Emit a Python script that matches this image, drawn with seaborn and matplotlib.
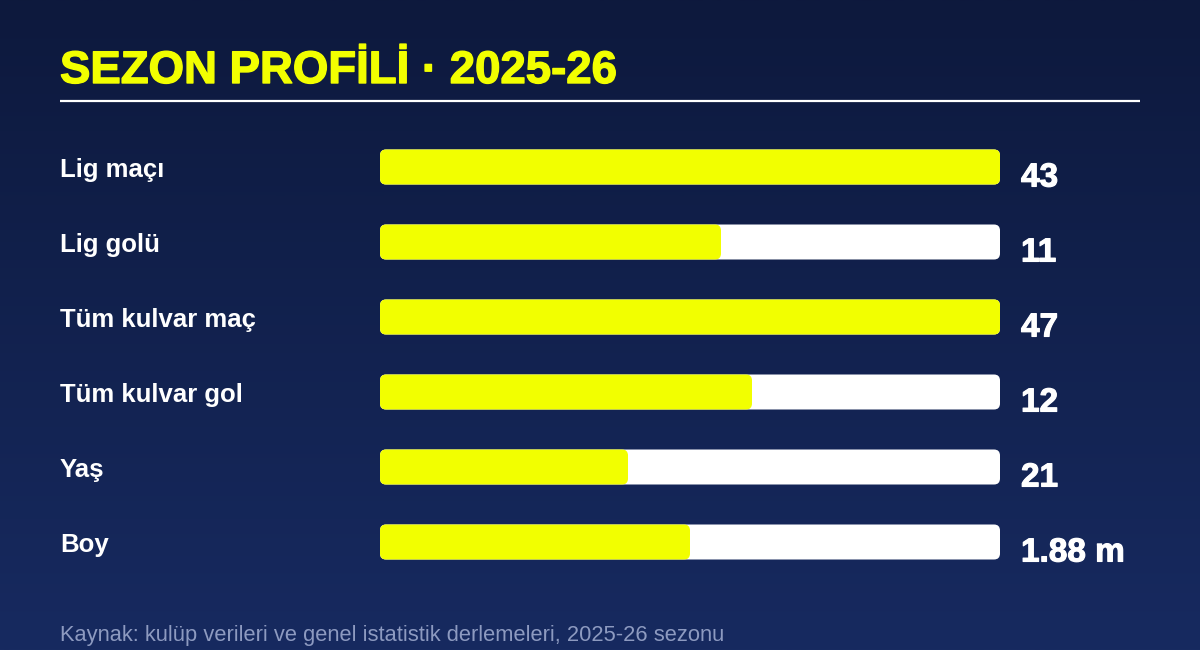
import numpy as np
import pandas as pd
import matplotlib
matplotlib.use("Agg")
import matplotlib.pyplot as plt
import matplotlib.patheffects as pe
import seaborn as sns
from matplotlib.patches import FancyBboxPatch

# ---- data ----
categories = ["Lig maçı", "Lig golü", "Tüm kulvar maç", "Tüm kulvar gol", "Yaş", "Boy"]
fill_share = [1.00, 0.55, 1.00, 0.60, 0.40, 0.50]
value_labels = ["43", "11", "47", "12", "21", "1.88 m"]
title = "SEZON PROFİLİ · 2025-26"
source = "Kaynak: kulüp verileri ve genel istatistik derlemeleri, 2025-26 sezonu"

YELLOW = "#f2ff00"
W, H = 1200, 650

sns.set_theme(style="white")
plt.rcParams["font.family"] = ["Liberation Sans", "DejaVu Sans"]

fig = plt.figure(figsize=(W / 100, H / 100), dpi=100)

# background gradient
bg = fig.add_axes([0, 0, 1, 1], zorder=0)
top = np.array([0x0d, 0x19, 0x3d]) / 255
bot = np.array([0x17, 0x2a, 0x60]) / 255
t = np.linspace(0, 1, 256)[:, None]
grad = top[None, :] * (1 - t) + bot[None, :] * t
bg.imshow(grad[:, None, :], aspect="auto", extent=[0, 1, 0, 1], origin="upper")
bg.set_xlim(0, 1); bg.set_ylim(0, 1)
bg.axis("off")

def heavy(color, lw):
    return [pe.withStroke(linewidth=lw, foreground=color)]

# title and rule
fig.text(60 / W, 1 - 71 / H, title, color=YELLOW, fontsize=32.8, fontweight="bold",
         ha="left", va="center", zorder=5, path_effects=heavy(YELLOW, 1.0))
bg.plot([60 / W, 1140 / W], [1 - 101 / H, 1 - 101 / H], color="white", lw=1.6,
        solid_capstyle="butt")

# bars axes
ax_left, ax_right = 380, 1000
row_first, row_last = 167, 542
step = (row_last - row_first) / (len(categories) - 1)
ax_top = row_first - step / 2
ax_bot = row_last + step / 2
ax = fig.add_axes([ax_left / W, 1 - ax_bot / H, (ax_right - ax_left) / W, (ax_bot - ax_top) / H],
                  zorder=2)
ax.patch.set_alpha(0)

df = pd.DataFrame({"cat": categories, "track": [1.0] * len(categories), "fill": fill_share})
bar_h = 35 / step
sns.barplot(data=df, x="track", y="cat", orient="h", color="white", width=bar_h,
            ax=ax, saturation=1)
sns.barplot(data=df, x="fill", y="cat", orient="h", color=YELLOW, width=bar_h,
            ax=ax, saturation=1)
ax.set_xlim(0, 1)
ax.set_ylim(len(categories) - 0.5, -0.5)

# replace rectangles with rounded boxes
px_x = 1 / (ax_right - ax_left)
px_y = 1 / step
r = 6 * px_x
aspect = px_y / px_x
rects = list(ax.patches)
for p in rects:
    x0, y0 = p.get_x(), p.get_y()
    w, h = p.get_width(), p.get_height()
    fc = p.get_facecolor()
    p.remove()
    ax.add_patch(FancyBboxPatch((x0, y0), w, h,
                                boxstyle=f"round,pad=0,rounding_size={r}",
                                mutation_aspect=aspect, facecolor=fc,
                                edgecolor="none", zorder=3))

ax.set_xlabel(""); ax.set_ylabel("")
ax.set_xticks([]); ax.set_yticks([])
for s in ax.spines.values():
    s.set_visible(False)

for i, (lab, val) in enumerate(zip(categories, value_labels)):
    ax.text((60 - ax_left) * px_x, i + 3 * px_y, lab, color="white", fontsize=18.5,
            fontweight="bold", ha="left", va="center", clip_on=False)
    ax.text((1021 - ax_left) * px_x, i + 11 * px_y, val, color="white", fontsize=24,
            fontweight="bold", ha="left", va="center", clip_on=False,
            path_effects=heavy("white", 0.8))

fig.text(60 / W, 1 - 635 / H, source, color="#8d9ac0", fontsize=15.75,
         ha="left", va="center")

fig.savefig("out.png", dpi=100)
